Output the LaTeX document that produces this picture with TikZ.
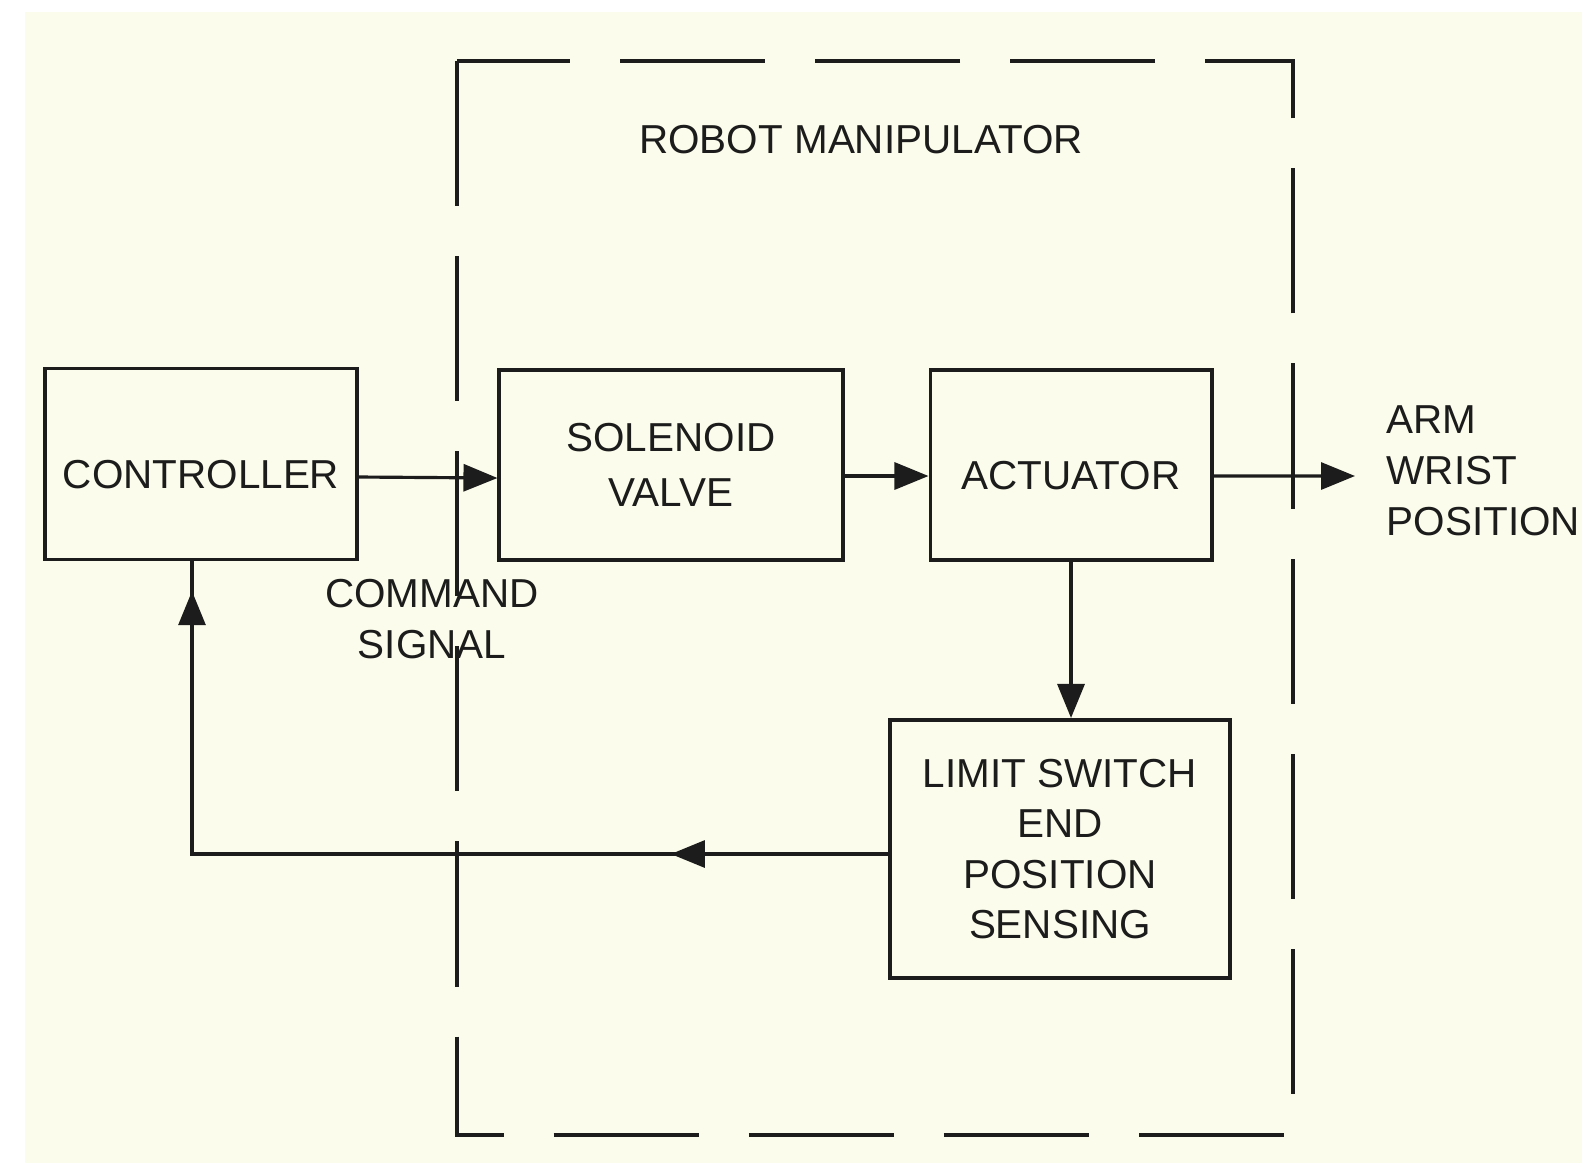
\documentclass[tikz,border=0pt]{standalone}
\usepackage{fontspec}
\setmainfont{Liberation Sans}
\usetikzlibrary{arrows.meta, positioning, decorations.markings}
\definecolor{paper}{RGB}{252,252,236}
\definecolor{ink}{RGB}{28,28,28}

\begin{document}
\begin{tikzpicture}[
    x=0.01cm, y=-0.01cm,
    block/.style={draw=ink, line width=1.1pt, inner sep=0pt, align=center,
      font=\fontsize{11.5}{15.5}\selectfont, text=ink},
    lowtext/.style={text height=0.49cm, text depth=0cm},
    lbl/.style={font=\fontsize{11.5}{14.5}\selectfont, text=ink, inner sep=0pt},
    flow/.style={draw=ink, line width=0.9pt,
      -{Triangle[length=0.34cm, width=0.27cm]}},
    feedback/.style={draw=ink, line width=0.9pt, postaction={decorate},
      decoration={markings,
        mark=at position 0.22 with {\arrow{Triangle[length=0.34cm, width=0.27cm]}},
        mark=at position 0.97 with {\arrow{Triangle[length=0.34cm, width=0.27cm]}}}},
]
% Paper
\fill[white] (0,0) rectangle (1589,1173);
\fill[paper] (25,12) rectangle (1582,1163);

% Robot manipulator boundary
\draw[ink, line width=1.1pt, dash pattern=on 1.45cm off 0.5cm]
  (457,61) rectangle (1293,1135);
\node[lbl] (robot) at (861,140) {ROBOT MANIPULATOR};

% Blocks
\node[block, lowtext, minimum width=3.11cm, minimum height=1.91cm] (ctrl)
  at (201,464) {CONTROLLER};
\node[block, minimum width=3.43cm, minimum height=1.9cm] (valve)
  at (671,465) {SOLENOID\\VALVE};
\node[block, lowtext, minimum width=2.81cm, minimum height=1.9cm] (act)
  at (1071,465) {ACTUATOR};
\node[block, font=\fontsize{11.5}{14.3}\selectfont,
  minimum width=3.39cm, minimum height=2.58cm] (lim)
  at (1060,849) {LIMIT SWITCH\\END\\POSITION\\SENSING};

% Signal path
\draw[flow] ([yshift=-0.13cm]ctrl.east) -- ([yshift=-0.13cm]valve.west);
\draw[flow] ([yshift=-0.11cm]valve.east) -- ([yshift=-0.11cm]act.west);
\coordinate (out) at (1355,476);
\draw[flow] ([yshift=-0.11cm]act.east) -- (out);
\draw[flow] (act.south) -- (act.south |- lim.north);

% Feedback
\draw[feedback] ([yshift=-0.05cm]lim.west) -| ([xshift=-0.09cm]ctrl.south);

% Labels
\node[lbl, align=center] (cmd) at (432,619) {COMMAND\\SIGNAL};
\node[lbl, align=left, anchor=west] (pos) at (1386,471)
  {ARM\\WRIST\\POSITION};
\end{tikzpicture}
\end{document}
